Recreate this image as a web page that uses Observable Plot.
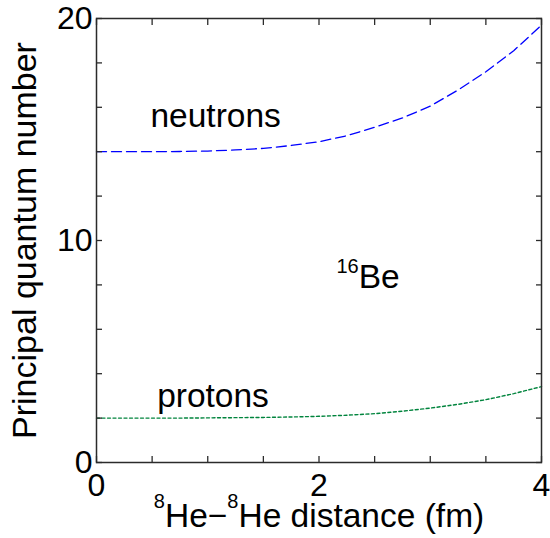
<!DOCTYPE html>
<html><head><meta charset="utf-8">
<script src="https://cdn.jsdelivr.net/npm/d3@7"></script>
<script src="https://cdn.jsdelivr.net/npm/@observablehq/plot@0.6"></script>
<style>html,body{margin:0;padding:0;background:#fff} svg{display:block}</style>
</head><body><div id="chart"></div>
<script>
// ---- data ----
const distance = [0, 0.25, 0.5, 0.75, 1.0, 1.25, 1.5, 1.75, 2.0, 2.25, 2.5, 2.75, 3.0, 3.25, 3.5, 3.75, 4.0];
const neutrons = [14.0, 14.0, 14.0, 14.01, 14.03, 14.08, 14.15, 14.28, 14.45, 14.72, 15.1, 15.52, 16.05, 16.78, 17.6, 18.55, 19.7];
const protons  = [2.0, 2.0, 2.0, 2.0, 2.01, 2.02, 2.03, 2.05, 2.08, 2.13, 2.2, 2.31, 2.45, 2.62, 2.83, 3.1, 3.42];

const xTicks = [0, 0.5, 1, 1.5, 2, 2.5, 3, 3.5, 4];
const xTickLabels = [0, 2, 4];
const yTicks = [0, 2, 4, 6, 8, 10, 12, 14, 16, 18, 20];
const yTickLabels = [0, 10, 20];

const xLabel = "^{8}He\u2212^{8}He distance (fm)";
const yLabel = "Principal quantum number";

const annotationText = ["neutrons", "protons", "^{16}Be"];
const annotationX = [0.485, 0.545, 2.157];
const annotationY = [15.1, 2.52, 7.84];

// ---- tables built from the arrays ----
const rows = distance.map((d, i) => ({d, n: neutrons[i], p: protons[i]}));
const annotations = annotationText.map((t, i) => ({t, x: annotationX[i], y: annotationY[i]}));

const font = "'Liberation Sans', Arial, Helvetica, sans-serif";
const axisColor = "#2b2b2b";

const plot = Plot.plot({
  width: 550,
  height: 538,
  marginLeft: 96,
  marginRight: 9,
  marginTop: 18,
  marginBottom: 76,
  style: {fontFamily: font, fontSize: "32px", color: "#000", background: "#fff", overflow: "visible"},
  x: {domain: [0, 4]},
  y: {domain: [0, 20]},
  marks: [
    Plot.lineY(rows, {x: "d", y: "n", stroke: "#0000ff", strokeWidth: 1.3, strokeDasharray: "10,5"}),
    Plot.lineY(rows, {x: "d", y: "p", stroke: "#00843d", strokeWidth: 1.4, strokeDasharray: "3,2.5"}),
    Plot.text(annotations, {x: "x", y: "y", text: "t", textAnchor: "start", lineAnchor: "bottom", fontSize: 33.5, fill: "#000"}),
    Plot.frame({stroke: axisColor, strokeWidth: 1.5}),
    Plot.axisX({anchor: "bottom", ticks: xTicks, tickSize: -6, tickPadding: 17, stroke: axisColor, strokeWidth: 1.3,
      tickFormat: d => xTickLabels.includes(d) ? String(d) : "",
      label: xLabel, labelAnchor: "center", labelOffset: 64, labelArrow: "none", fontSize: 32, fill: "#000"}),
    Plot.axisX({anchor: "top", ticks: xTicks, tickSize: -6, stroke: axisColor, strokeWidth: 1.3, tickFormat: () => "", label: null}),
    Plot.axisY({anchor: "left", ticks: yTicks, tickSize: -6, tickPadding: 10, stroke: axisColor, strokeWidth: 1.3,
      tickFormat: d => yTickLabels.includes(d) ? String(d) : "",
      label: yLabel, labelAnchor: "center", labelOffset: 85, labelArrow: "none", fontSize: 32, fill: "#000"}),
    Plot.axisY({anchor: "right", ticks: yTicks, tickSize: -6, tickFormat: () => "", label: null, stroke: axisColor, strokeWidth: 1.3})
  ]
});

// slightly larger axis titles, as in the reference
d3.select(plot).selectAll('g[aria-label="x-axis label"] text').attr("font-size", 33.5);
d3.select(plot).selectAll('g[aria-label="y-axis label"] text').attr("font-size", 34);

// turn ^{..} markers into real superscript tspans
function superscript(textEl, supSize, raise) {
  const str = textEl.textContent;
  const sel = d3.select(textEl);
  sel.text(null);
  const parts = str.split(/(\^\{[^}]*\})/).filter(s => s.length);
  let shifted = false;
  for (const p of parts) {
    const m = p.match(/^\^\{([^}]*)\}$/);
    if (m) {
      sel.append("tspan").attr("font-size", supSize).attr("dy", -raise).text(m[1]);
      shifted = true;
    } else {
      const t = sel.append("tspan").text(p);
      if (shifted) { t.attr("dy", raise); shifted = false; }
    }
  }
}
d3.select(plot).selectAll("text").each(function () {
  if (this.textContent.includes("^{")) {
    const isAxis = this.textContent.includes("distance");
    superscript(this, isAxis ? 20 : 20, isAxis ? 19 : 15);
  }
});

document.getElementById("chart").appendChild(plot);
</script>
</body></html>
